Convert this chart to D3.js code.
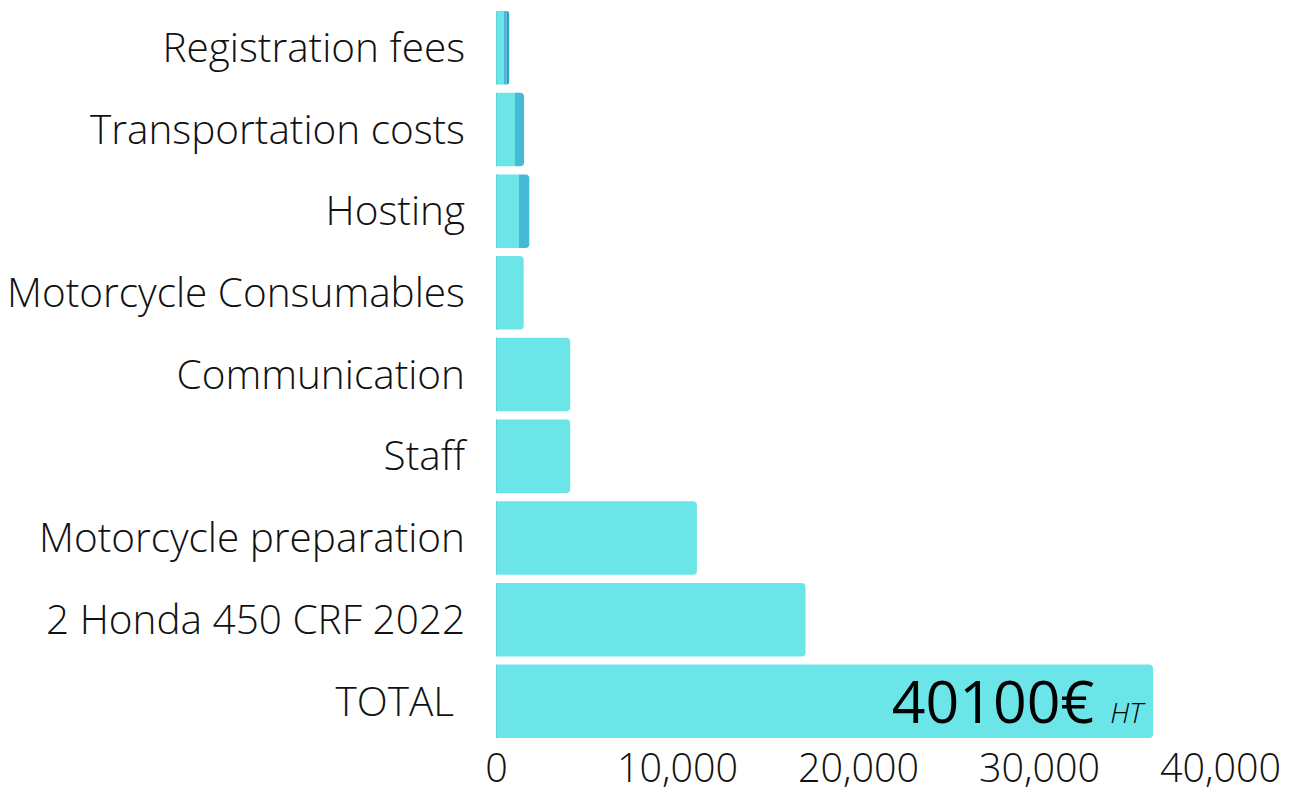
<!DOCTYPE html>
<html>
<head>
<meta charset="utf-8">
<script src="https://cdn.jsdelivr.net/npm/d3@7"></script>
<style>
  html, body { margin: 0; padding: 0; background: #ffffff; }
  svg { display: block; }
</style>
</head>
<body>
<svg id="chart" width="1294" height="802"></svg>
<script>
// ---- data ----
const categories = [
  "Registration fees",
  "Transportation costs",
  "Hosting",
  "Motorcycle Consumables",
  "Communication",
  "Staff",
  "Motorcycle preparation",
  "2 Honda 450 CRF 2022",
  "TOTAL"
];
const seriesBase   = [440, 1050, 1270, 1530, 4100, 4100, 11100, 17100, 36300];
const seriesExtra  = [140,  500,  570,    0,    0,    0,     0,     0,     0];
const seriesExtra2 = [150,    0,    0,    0,    0,    0,     0,     0,     0];
const seriesNames  = ["base", "extra", "extra2"];
const xTicks = [0, 10000, 20000, 30000, 40000];
const totalLabel = "40100€";
const totalSuffix = "HT";

const colors = { base: "#6be5e8", extra: "#45b9d6", extra2: "#2f9ecb" };

const svg = d3.select("#chart");
const x = d3.scaleLinear().domain([0, 40000]).range([496, 1220]);
const y = d3.scaleBand().domain(categories).range([6.9, 742.2]).paddingInner(0.1).paddingOuter(0.05);

const rows = categories.map((c, i) => ({
  cat: c,
  base: seriesBase[i], extra: seriesExtra[i], extra2: seriesExtra2[i]
}));
const stack = d3.stack().keys(seriesNames)(rows);

const r = 4;
function barPath(x0, x1, y0, h, rounded) {
  const w = x1 - x0;
  if (w <= 0) return "";
  if (!rounded) return `M${x0},${y0}H${x1}V${y0+h}H${x0}Z`;
  const rr = Math.min(r, w);
  return `M${x0},${y0}H${x1-rr}Q${x1},${y0} ${x1},${y0+rr}V${y0+h-rr}Q${x1},${y0+h} ${x1-rr},${y0+h}H${x0}Z`;
}

const lastKey = rows.map(d => {
  let k = "base";
  seriesNames.forEach(s => { if (d[s] > 0) k = s; });
  return k;
});

const g = svg.append("g");
stack.forEach(layer => {
  g.append("g").selectAll("path")
    .data(layer)
    .join("path")
    .attr("fill", colors[layer.key])
    .attr("d", (d, i) => barPath(x(d[0]), x(d[1]), y(categories[i]), y.bandwidth(), lastKey[i] === layer.key));
});

g.append("g").selectAll("rect")
  .data(categories)
  .join("rect")
  .attr("x", x(0)).attr("width", 1)
  .attr("y", d => y(d)).attr("height", y.bandwidth())
  .attr("fill", "#5fd3d8");

svg.append("g").selectAll("text")
  .data(categories)
  .join("text")
  .attr("x", d => d === "TOTAL" ? 454 : 465)
  .attr("y", d => y(d) + y.bandwidth() / 2)
  .attr("dy", "0.35em")
  .attr("text-anchor", "end")
  .style("font-family", "'Open Sans', sans-serif")
  .style("font-weight", 300)
  .style("font-size", "40.5px")
  .style("fill", "#111")
  .text(d => d);

const xAxis = d3.axisBottom(x).tickValues(xTicks).tickFormat(d3.format(",")).tickSize(0).tickPadding(0);
const ax = svg.append("g").attr("transform", "translate(0,754)").call(xAxis);
ax.select(".domain").remove();
ax.selectAll("text")
  .attr("dy", "0.71em")
  .style("font-family", "'Open Sans', sans-serif")
  .style("font-weight", 300)
  .style("font-size", "39.5px")
  .style("fill", "#111");

const tot = rows[rows.length - 1];
const ty = y("TOTAL") + y.bandwidth() / 2;
const tg = svg.append("text")
  .attr("x", x(tot.base) - 10)
  .attr("y", ty + 22)
  .attr("text-anchor", "end")
  .style("font-family", "'Open Sans', sans-serif")
  .style("fill", "#000");
tg.append("tspan")
  .style("font-size", "59px")
  .style("font-weight", 400)
  .text(totalLabel);
tg.append("tspan")
  .attr("dx", 16)
  .style("font-size", "28px")
  .style("font-style", "italic")
  .style("font-weight", 300)
  .text(totalSuffix);
</script>
</body>
</html>
